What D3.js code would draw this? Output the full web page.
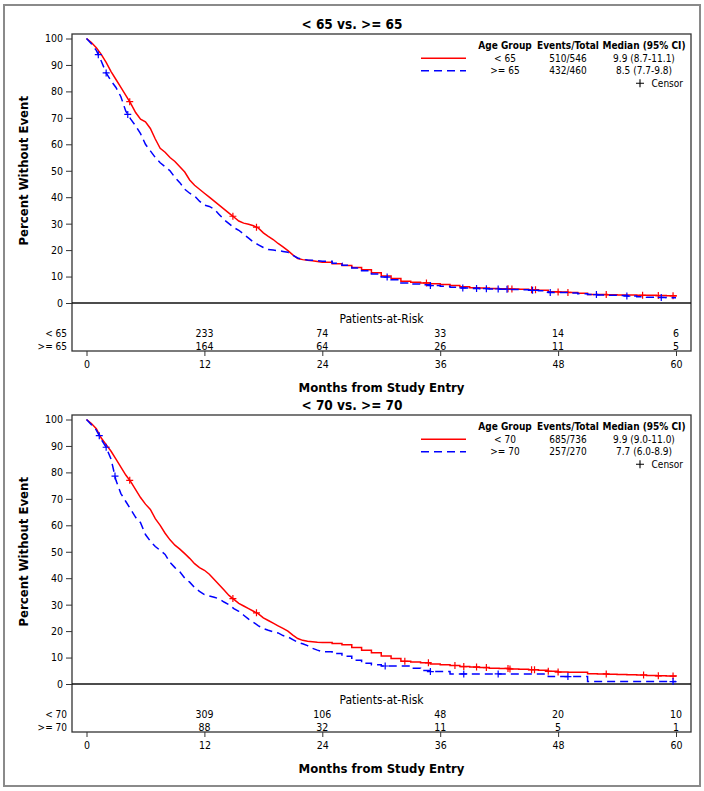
<!DOCTYPE html>
<html><head><meta charset="utf-8">
<script src="https://cdn.jsdelivr.net/npm/d3@7/dist/d3.min.js"></script>
<style>
body{margin:0;background:#fff}
svg text{font-family:"DejaVu Sans Condensed","DejaVu Sans",sans-serif;font-stretch:condensed;fill:#000}
</style>
</head><body>
<svg id="chart" width="704" height="791"></svg>
<script>
// ---------- data ----------
const monthsEarly = [0,0.5,1,1.5,2,2.5,3,3.5,4,4.5,5,5.5,6,6.5,7,7.5,8,8.5,9,9.5,10,10.5,11,11.5,12,12.5,13,13.5,14,14.5,15,15.5,16,16.5,17,17.5,18,18.5,19,19.5,20,20.5,21,21.5,22,22.5,23,23.5,24];
const monthsLate = [25,26,27,28,29,30,31,32,33,34,35,36,37,38,39,40,41,42,43,44,45,46,47,48,49,50,51,52,53,54,55,56,57,58,59,60];
const xTicks = [0,12,24,36,48,60];
const yTicks = [0,10,20,30,40,50,60,70,80,90,100];

// Panel 1: < 65 vs >= 65
const surv_lt65 = [100,98.5,96.5,94,91,87.5,84.5,81.5,78.5,75.5,72,69.5,68.5,66,62,58.5,57,55,53.5,51.5,49.5,46.5,44.5,43,41.5,40,38.5,37,35.5,34,32.5,31,30.2,29.8,29.2,28.3,26.5,25.2,24,22.5,21.2,19.8,18.2,16.8,16.4,16.2,16,15.7,15.4,
  14.8,14.2,13.4,12.6,11.4,10.2,9.3,8.2,7.8,7.6,7.3,7,6.6,6.1,5.8,5.7,5.5,5.4,5.3,5.2,5,4.8,4.3,4.2,4,3.7,3.2,3.2,3.1,3,3,2.9,2.9,2.8,2.7,2.5];
const surv_ge65 = [100,98,95.5,91.5,87,84,81.5,78,72.5,69.5,67,64,60,57.5,55,53,51.5,50,47.5,45.5,43,41.5,40.5,38.5,37,36.5,35.5,33.5,31.5,30,28.5,27.5,26,24.5,23,22,21,20.2,20,19.8,19.5,19.2,18,17,16.5,16.3,16.2,16,15.8,
  15,14.3,13.2,12.2,11,9.8,8.8,7.6,7.2,6.9,6.6,6.3,6,5.7,5.5,5.4,5.3,5.2,5.1,5,4.8,4.6,4,4,3.8,3.5,3.2,3,2.9,2.8,2.6,2.4,2.2,2.1,2,2];
const censor_lt65 = [4.4,14.9,17.3,34.6,42.9,43.3,45.3,45.7,48,49,52.9,56.6,58.2,59.7];
const censor_ge65 = [1.2,2.0,4.2,30.6,35,38.3,39.7,40.7,41.9,42.8,45.4,47.2,51.9,55,58.5];
const risk_lt65 = [null,233,74,33,14,6];
const risk_ge65 = [null,164,64,26,11,5];

// Panel 2: < 70 vs >= 70
const surv_lt70 = [100,98.5,96.5,93,90.5,88,85,82,79,76.5,73.5,70.5,68,66,62.5,60,57,54.5,52.5,51,49.3,47.5,45.5,44,43,41.5,39.5,37.5,35.5,33.5,32,30.5,29.5,28.5,27.5,26.5,25,24,23,22,21,20,18.5,17.2,16.5,16.2,16,15.8,15.7,
  15.3,14.8,13.8,12.8,11.8,10.6,9.6,8.6,8.3,8,7.6,7.3,7,6.6,6.4,6.2,6,5.9,5.7,5.6,5.4,5.2,4.8,4.5,4.4,4.4,3.9,3.8,3.7,3.6,3.5,3.4,3.2,3.1,3,2.8];
const surv_ge70 = [100,98,96,92.5,89.5,85,77,72,69,66,63,61,56.5,54,52,50.5,49,46,44,42.4,40,38.5,36.5,35,33.8,33.3,32.8,32.2,31,30,28.5,27.5,26,24.5,23.3,22,21,20.3,19.7,19.3,18.3,17.8,16.8,15.8,15.2,14.5,13.5,12.8,12.2,
  11.5,10.5,9,7.8,7.3,6.8,6.8,6.8,6,5.1,4.7,4.7,3.8,3.8,3.8,3.8,3.8,3.8,3.8,3.8,3.8,3.8,2.8,2.8,2.8,2.8,0.9,0.9,0.9,0.9,0.9,0.9,0.9,0.9,0.9,0.9];
const censor_lt70 = [4.4,14.9,17.3,32.4,34.8,37.5,38.4,39.7,40.7,42.9,43.1,45.3,45.6,47,48,52.9,56.7,58.2,59.7];
const censor_ge70 = [1.3,2.0,2.9,30.4,35,38.4,41.9,49,59.7];
const risk_lt70 = [null,309,106,48,20,10];
const risk_ge70 = [null,88,32,11,5,1];

const panels = [
  {title:"< 65 vs. >= 65", top:34, groups:[
    {label:"< 65", events:"510/546", median:"9.9 (8.7-11.1)", surv:surv_lt65, censor:censor_lt65, risk:risk_lt65, color:"#ff0000", dash:null},
    {label:">= 65", events:"432/460", median:"8.5 (7.7-9.8)", surv:surv_ge65, censor:censor_ge65, risk:risk_ge65, color:"#0000ff", dash:"8,5"}]},
  {title:"< 70 vs. >= 70", top:415, groups:[
    {label:"< 70", events:"685/736", median:"9.9 (9.0-11.0)", surv:surv_lt70, censor:censor_lt70, risk:risk_lt70, color:"#ff0000", dash:null},
    {label:">= 70", events:"257/270", median:"7.7 (6.0-8.9)", surv:surv_ge70, censor:censor_ge70, risk:risk_ge70, color:"#0000ff", dash:"8,5"}]}
];

// ---------- drawing ----------
const svg = d3.select("#chart");
svg.append("rect").attr("x",4).attr("y",5).attr("width",696).attr("height",781)
  .attr("fill","none").attr("stroke","#8a8a8a").attr("stroke-width",2);

const frameL = 72, frameR = 691;
const x = d3.scaleLinear().domain([0,60]).range([86.5,676]);
const months = monthsEarly.concat(monthsLate);
const nEarly = monthsEarly.length;

panels.forEach(p => {
  const top = p.top;
  const y0 = top + 269, bottom = top + 317;
  const y = d3.scaleLinear().domain([0,100]).range([y0, top + 4.5]);
  const g = svg.append("g");

  // title
  g.append("text").attr("x",352).attr("y",top-10).attr("dy","0.35em")
    .attr("text-anchor","middle").attr("font-weight","bold").attr("font-size",13.5).text(p.title);

  // frame
  g.append("rect").attr("x",frameL).attr("y",top).attr("width",frameR-frameL).attr("height",bottom-top)
    .attr("fill","none").attr("stroke","#333").attr("stroke-width",1.3);
  g.append("line").attr("x1",frameL).attr("x2",frameR).attr("y1",y0).attr("y2",y0)
    .attr("stroke","#111").attr("stroke-width",1.5);

  // y axis
  const ya = g.append("g").attr("transform",`translate(${frameL},0)`)
    .call(d3.axisLeft(y).tickValues(yTicks).tickSize(6).tickPadding(3).tickFormat(d3.format("d")));
  ya.select(".domain").remove();
  ya.selectAll("line").attr("stroke","#333");
  ya.selectAll("text").attr("font-size",10.5).style("font-family",null);

  g.append("text").attr("transform",`translate(23,${(y0 + top + 4.5)/2}) rotate(-90)`)
    .attr("text-anchor","middle").attr("dy","0.35em").attr("font-weight","bold").attr("font-size",13)
    .text("Percent Without Event");

  // x axis
  const xa = g.append("g").attr("transform",`translate(0,${bottom})`)
    .call(d3.axisBottom(x).tickValues(xTicks).tickSize(5).tickPadding(5));
  xa.select(".domain").remove();
  xa.selectAll("line").attr("stroke","#333");
  xa.selectAll("text").attr("font-size",10.5);
  g.append("text").attr("x",(frameL+frameR)/2).attr("y",bottom+36).attr("dy","0.35em")
    .attr("text-anchor","middle").attr("font-weight","bold").attr("font-size",13)
    .text("Months from Study Entry");

  // at-risk table
  g.append("text").attr("x",(frameL+frameR)/2).attr("y",y0+16).attr("dy","0.35em")
    .attr("text-anchor","middle").attr("font-size",12).text("Patients-at-Risk");
  p.groups.forEach((gr,i) => {
    const ry = y0 + 30 + i*13;
    g.append("text").attr("x",67).attr("y",ry).attr("dy","0.35em").attr("text-anchor","end")
      .attr("font-size",10).text(gr.label);
    g.selectAll(null).data(xTicks.map((t,j)=>({t, n:gr.risk[j]})).filter(d=>d.n!==null))
      .enter().append("text").attr("x",d=>x(d.t)).attr("y",ry).attr("dy","0.35em")
      .attr("text-anchor","middle").attr("font-size",10.5).text(d=>d.n);
  });

  // curves: dense early part drawn as a jagged line, sparse tail as steps
  const lineEarly = d3.line().x(d=>x(d[0])).y(d=>y(d[1])).curve(d3.curveLinear);
  const lineLate = d3.line().x(d=>x(d[0])).y(d=>y(d[1])).curve(d3.curveStepAfter);
  p.groups.forEach(gr => {
    const pts = months.map((t,i)=>[t, gr.surv[i]]);
    const early = pts.slice(0, nEarly);
    const late = pts.slice(nEarly - 1);
    const d = lineEarly(early) + lineLate(late).replace(/^M/, "L");
    g.append("path").attr("d",d).attr("fill","none")
      .attr("stroke",gr.color).attr("stroke-width",1.5)
      .attr("stroke-dasharray",gr.dash);
    const bis = d3.bisector(d=>d[0]).right;
    const valAt = t => {
      const i = bis(pts,t) - 1;
      if (t <= 24 && i < nEarly - 1) {
        const a = pts[i], b = pts[i+1];
        return a[1] + (b[1]-a[1])*(t-a[0])/(b[0]-a[0]);
      }
      return pts[Math.max(0,i)][1];
    };
    g.selectAll(null).data(gr.censor).enter().append("path")
      .attr("transform",t=>`translate(${x(t)},${y(valAt(t))})`)
      .attr("d","M-3.5,0H3.5M0,-3.5V3.5").attr("stroke",gr.color).attr("stroke-width",1.2).attr("fill","none");
  });

  // legend
  const lt = top + 11.7;
  const cols = [505, 568, 644];
  ["Age Group","Events/Total","Median (95% CI)"].forEach((h,i)=>{
    g.append("text").attr("x",cols[i]).attr("y",lt).attr("dy","0.35em").attr("text-anchor","middle")
      .attr("font-weight","bold").attr("font-size",10).text(h);
  });
  p.groups.forEach((gr,i)=>{
    const ly = lt + 12.5 + i*12.5;
    g.append("line").attr("x1",421).attr("x2",466).attr("y1",ly).attr("y2",ly)
      .attr("stroke",gr.color).attr("stroke-width",1.5).attr("stroke-dasharray",gr.dash);
    [gr.label, gr.events, gr.median].forEach((s,j)=>{
      g.append("text").attr("x",cols[j]).attr("y",ly).attr("dy","0.35em").attr("text-anchor","middle")
        .attr("font-size",10).text(s);
    });
  });
  const cy = lt + 37.5;
  g.append("path").attr("transform",`translate(640,${cy})`).attr("d","M-4,0H4M0,-4V4")
    .attr("stroke","#000").attr("stroke-width",1.1);
  g.append("text").attr("x",683).attr("y",cy).attr("dy","0.35em").attr("text-anchor","end")
    .attr("font-size",10).text("Censor");
});
</script>
</body></html>
